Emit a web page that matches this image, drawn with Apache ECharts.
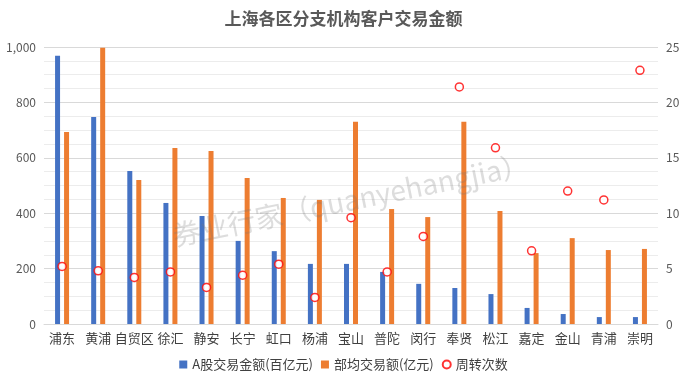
<!DOCTYPE html>
<html>
<head>
<meta charset="utf-8">
<script src="https://cdn.jsdelivr.net/npm/echarts@6/dist/echarts.min.js"></script>
<style>
  html, body { margin: 0; padding: 0; background: #fff; }
  #chart { width: 687px; height: 380px; }
</style>
</head>
<body>
<div id="chart"></div>
<script>
// districts
const districts = ['浦东', '黄浦', '自贸区', '徐汇', '静安', '长宁', '虹口', '杨浦', '宝山', '普陀', '闵行', '奉贤', '松江', '嘉定', '金山', '青浦', '崇明'];
// A股交易金额(百亿元)
const aShareAmount = [968, 747, 552, 437, 390, 300, 263, 217, 217, 188, 145, 130, 108, 58, 36, 25, 25];
// 部均交易额(亿元)
const avgPerBranch = [693, 997, 520, 635, 625, 527, 455, 448, 730, 415, 386, 730, 408, 256, 310, 267, 271];
// 周转次数
const turnover = [5.2, 4.8, 4.2, 4.7, 3.3, 4.4, 5.4, 2.4, 9.6, 4.7, 7.9, 21.4, 15.9, 6.6, 12.0, 11.2, 22.9];

const chart = echarts.init(document.getElementById('chart'));
const font = 'Microsoft YaHei, "Noto Sans CJK SC", sans-serif';

chart.setOption({
  animation: false,
  textStyle: { fontFamily: font },
  title: {
    text: '上海各区分支机构客户交易金额',
    left: 'center',
    top: 5,
    textStyle: { fontSize: 17, fontWeight: 'bold', color: '#595959', fontFamily: font }
  },
  legend: {
    bottom: 4,
    left: 'center',
    itemWidth: 8,
    itemHeight: 8,
    itemGap: 8,
    textStyle: { fontSize: 13, color: '#404040' },
    data: [
      { name: 'A股交易金额(百亿元)', icon: 'rect' },
      { name: '部均交易额(亿元)', icon: 'rect' },
      { name: '周转次数', icon: 'circle' }
    ]
  },
  grid: { left: 44, right: 29, top: 47, bottom: 56 },
  xAxis: {
    type: 'category',
    data: districts,
    axisTick: { show: false },
    axisLine: { lineStyle: { color: '#d9d9d9' } },
    axisLabel: { color: '#404040', fontSize: 13, interval: 0, margin: 8 }
  },
  yAxis: [
    {
      type: 'value',
      min: 0,
      max: 1000,
      interval: 200,
      axisLabel: {
        color: '#595959',
        fontSize: 12,
        margin: 8,
        formatter: v => v.toLocaleString('en-US')
      },
      splitLine: { lineStyle: { color: '#d9d9d9' } },
      minorTick: { show: false, splitNumber: 4 },
      minorSplitLine: { show: true, lineStyle: { color: '#ececec' } }
    },
    {
      type: 'value',
      min: 0,
      max: 25,
      interval: 5,
      axisLabel: { color: '#595959', fontSize: 12, margin: 8 },
      splitLine: { show: false }
    }
  ],
  graphic: [
    {
      type: 'text',
      left: 170,
      top: 150,
      rotation: 0.2,
      z: 100,
      style: {
        text: '券业行家（quanyehangjia）',
        fontSize: 28,
        fill: 'rgba(120,120,120,0.25)',
        fontFamily: font
      }
    }
  ],
  series: [
    {
      name: 'A股交易金额(百亿元)',
      type: 'bar',
      data: aShareAmount,
      barWidth: 5,
      barGap: '80%',
      itemStyle: { color: '#4472C4' }
    },
    {
      name: '部均交易额(亿元)',
      type: 'bar',
      data: avgPerBranch,
      barWidth: 5,
      barGap: '80%',
      itemStyle: { color: '#ED7D31' }
    },
    {
      name: '周转次数',
      type: 'scatter',
      yAxisIndex: 1,
      data: turnover,
      symbol: 'circle',
      symbolSize: 8,
      itemStyle: { color: '#fff', borderColor: '#FF0000', borderWidth: 1.5 },
      z: 5
    }
  ]
});
</script>
</body>
</html>
